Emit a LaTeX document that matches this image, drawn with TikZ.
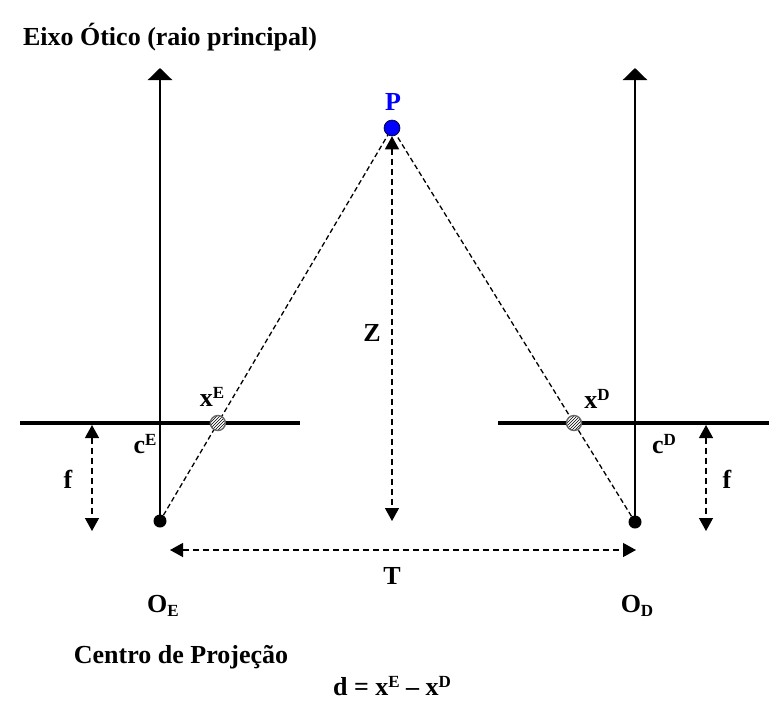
\documentclass[tikz,border=0pt]{standalone}
\usepackage{fontspec}
\setmainfont{Liberation Serif}
\usetikzlibrary{arrows.meta,positioning,calc,patterns}

\newcommand{\upidx}[1]{\raisebox{0.6ex}{\fontsize{17}{17}\selectfont #1}}
\newcommand{\lowidx}[1]{\raisebox{-0.3ex}{\fontsize{17}{17}\selectfont #1}}

\begin{document}
\begin{tikzpicture}[
    x=1pt, y=-1pt,
    node font=\bfseries\fontsize{26}{30}\selectfont,
    axis line/.style={line width=2.6pt, -{Triangle[width=24pt,length=12pt]}},
    image plane/.style={line width=3.6pt},
    ray line/.style={line width=1.3pt, dash pattern=on 5pt off 3pt},
    dim arrow/.style={{Triangle[width=14pt,length=13pt]}-{Triangle[width=14pt,length=13pt]}, line width=1.3pt, dash pattern=on 6pt off 4pt},
    node dot/.style={circle, fill=black, inner sep=0pt, minimum size=13pt},
    point dot/.style={circle, draw=black, fill=blue, inner sep=0pt, minimum size=16pt, line width=0.6pt},
    hatch dot/.style={circle, draw=black!60, preaction={fill=white}, pattern=north east lines, inner sep=0pt, minimum size=15pt, line width=1.4pt},
]
\useasboundingbox (0,0) rectangle (769,702);

% Projection centres and the point
\node[node dot] (OE) at (160,521) {};
\node[node dot] (OD) at (635,522) {};
\node[point dot] (P) at (392,128) {};

% Optical axes
\coordinate (axE) at (160,68);
\coordinate (axD) at (635,68);
\draw[axis line] (OE.center) -- (axE);
\draw[axis line] (OD.center) -- (axD);

% Image planes
\coordinate (planeEw) at (20,423);
\coordinate (planeEe) at (300,423);
\coordinate (planeDw) at (498,423);
\coordinate (planeDe) at (769,423);
\draw[image plane] (planeEw) -- (planeEe);
\draw[image plane] (planeDw) -- (planeDe);

% Rays to P
\draw[ray line] (OE) -- (P);
\draw[ray line] (OD) -- (P);

% Image points
\node[hatch dot] (xE) at (intersection of OE--P and planeEw--planeEe) {};
\node[hatch dot] (xD) at (intersection of OD--P and planeDw--planeDe) {};

% Depth, baseline and focal length
\coordinate (Zbot) at (392,521);
\draw[dim arrow] (P) -- (Zbot);
\coordinate (TW) at (170,550);
\coordinate (TE) at (636,550);
\draw[dim arrow] (TW) -- (TE);
\coordinate (fEtop) at (92,425);
\coordinate (fEbot) at (92,531);
\draw[dim arrow] (fEtop) -- (fEbot);
\coordinate (fDtop) at (706,425);
\coordinate (fDbot) at (706,531);
\draw[dim arrow] (fDtop) -- (fDbot);

% Labels
\node[blue] (Plab) at (393,102) {P};
\node (Zlab) at (372,333) {Z};
\node (xElab) at (212,397) {x\upidx{E}};
\node (cElab) at (145,444) {c\upidx{E}};
\node (fElab) at (68,479) {f};
\node (xDlab) at (597,399) {x\upidx{D}};
\node (cDlab) at (664,444) {c\upidx{D}};
\node (fDlab) at (727,479) {f};
\node (Tlab) at (392,576) {T};
\node (OElab) at (163,606) {O\lowidx{E}};
\node (ODlab) at (637,606) {O\lowidx{D}};

% Captions
\node (title) at (170,37) {Eixo Ótico (raio principal)};
\node (centre) at (181,657) {Centro de Projeção};
\node (disp) at (392,686) {d = x\upidx{E} – x\upidx{D}};

\end{tikzpicture}
\end{document}
